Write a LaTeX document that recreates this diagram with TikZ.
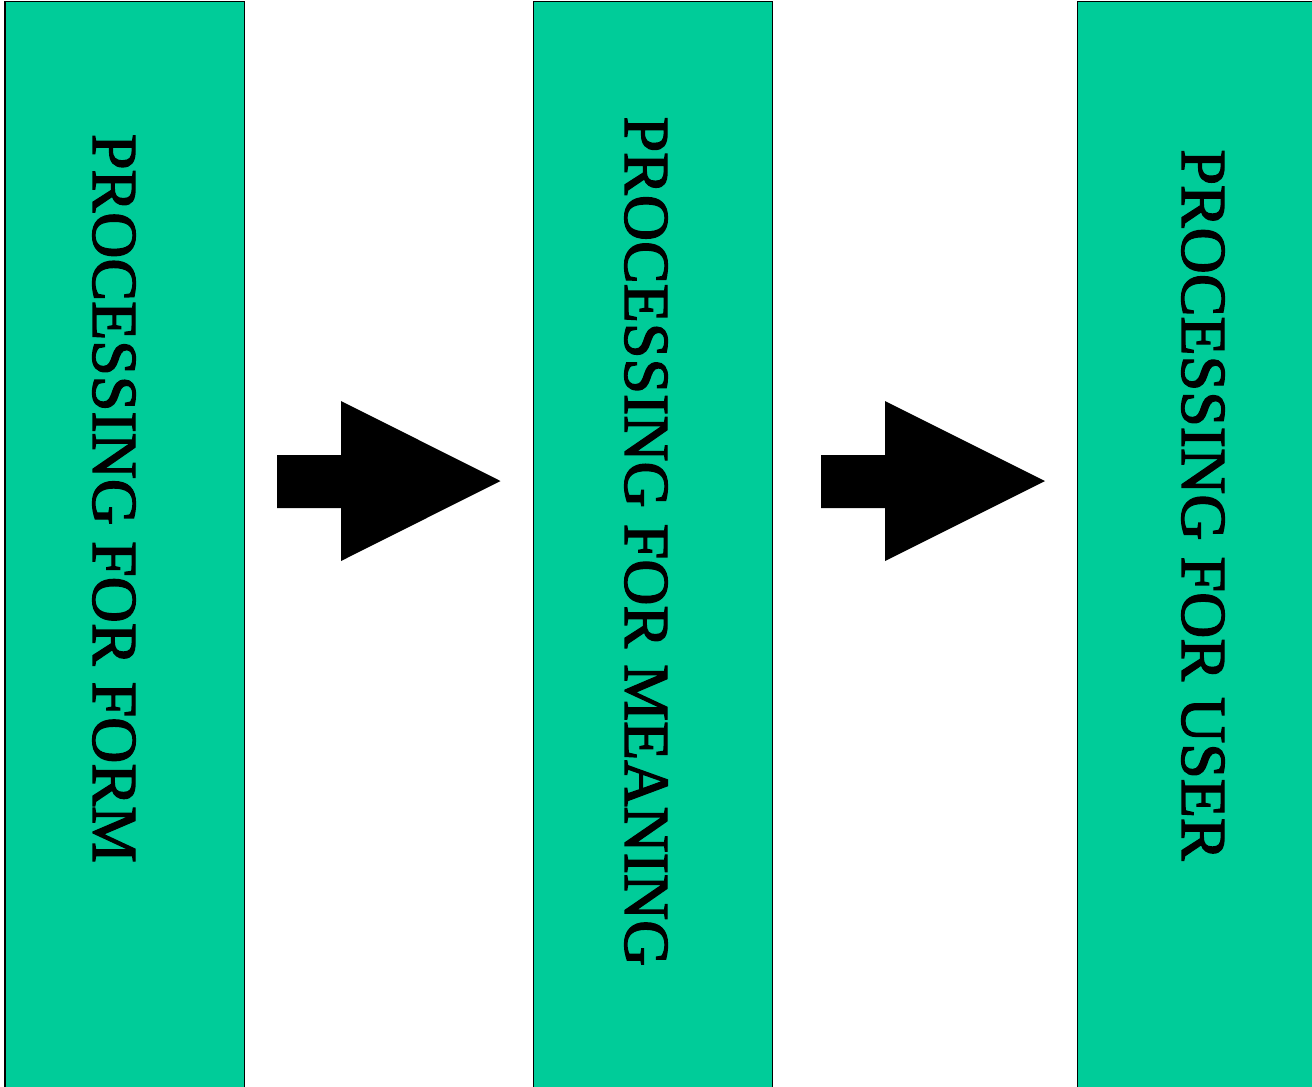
\documentclass[tikz,border=0pt]{standalone}
\usepackage{fontspec}
\setmainfont{Liberation Serif}
\newfontfamily\labelfont{Liberation Serif}[UprightFeatures={FakeBold=2}]
\definecolor{boxgreen}{RGB}{0,204,153}
\begin{document}
\begin{tikzpicture}[x=1pt,y=-1pt,
  stage/.style={draw=black,line width=1.5pt,fill=boxgreen},
  label/.style={rotate=-90,inner sep=0pt,font=\labelfont\fontsize{64}{70}\selectfont},
  blockarrow/.style={fill=black,draw=none}]
\useasboundingbox (0,0) rectangle (1312,1087);
\clip (0,0) rectangle (1312,1087);
\fill[white] (0,0) rectangle (1312,1087);
% stages
\draw[stage] (5,1.5) rectangle (244.5,1100);
\draw[stage] (533.5,1.5) rectangle (772.5,1100);
\draw[stage] (1077.5,1.5) rectangle (1330,1100);
\node[label] (form) at (114,498.5) {PROCESSING FOR FORM};
\node[label] (meaning) at (646,541.5) {PROCESSING FOR MEANING};
\node[label] (user) at (1203,505) {PROCESSING FOR USER};
% block arrows
\fill[blockarrow] (277,455) -- (341,455) -- (341,401) -- (500.5,481) -- (341,561) -- (341,508) -- (277,508) -- cycle;
\fill[blockarrow] (821,455) -- (885,455) -- (885,401) -- (1045,481) -- (885,561) -- (885,508) -- (821,508) -- cycle;
\end{tikzpicture}
\end{document}
